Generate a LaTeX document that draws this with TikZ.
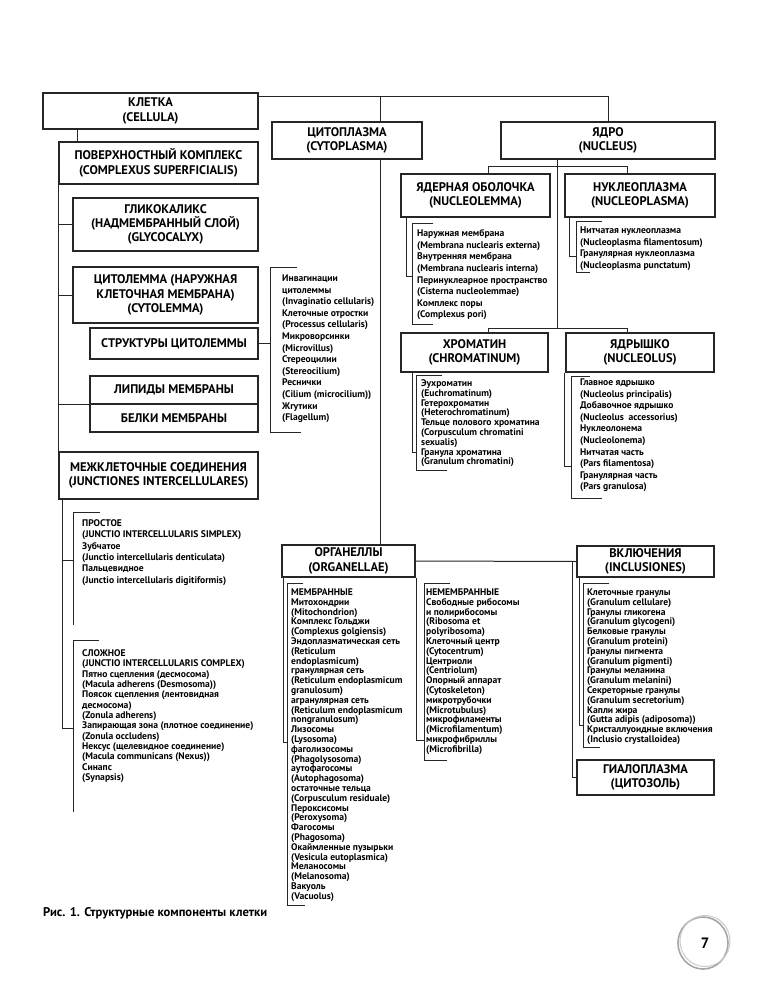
\documentclass[tikz,border=0pt]{standalone}
\usepackage{fontspec}
\setmainfont{PT Sans}
\usetikzlibrary{calc}
\newcommand\bxfont{\fontsize{12.5}{14.2}\selectfont\bfseries}
\newcommand\lsfont{\fontsize{9.6}{11.6}\selectfont\bfseries}
\begin{document}
\begin{tikzpicture}[x=1pt,y=-1pt,
  conn/.style={line width=1pt, draw=black!85},
  box/.style={draw=black!85, line width=1.1pt, align=center, font=\bxfont, inner sep=0pt, anchor=center},
  lst/.style={align=left, anchor=north west, inner sep=0pt, font=\lsfont},
  lsttight/.style={lst, font={\fontsize{9.6}{9.8}\selectfont\bfseries}},
]
\useasboundingbox (0,0) rectangle (776,1000);
\fill[white] (0,0) rectangle (776,1000);

% ---------- boxes ----------
\node[box, minimum width=215, minimum height=36] (cell) at (150.5,111) {КЛЕТКА\\(CELLULA)};
\node[box, minimum width=150, minimum height=37] (cyto) at (347,140.5) {ЦИТОПЛАЗМА\\(CYTOPLASMA)};
\node[box, minimum width=214, minimum height=37] (nuc) at (608,140.5) {ЯДРО\\(NUCLEUS)};
\node[box, minimum width=149, minimum height=43] (nlem) at (475.5,195.5) {ЯДЕРНАЯ ОБОЛОЧКА\\(NUCLEOLEMMA)};
\node[box, minimum width=150, minimum height=43] (nplas) at (640,195.5) {НУКЛЕОПЛАЗМА\\(NUCLEOPLASMA)};
\node[box, minimum width=147, minimum height=39] (chrom) at (474.5,352.5) {ХРОМАТИН\\(CHROMATINUM)};
\node[box, minimum width=148, minimum height=39] (ncl) at (640,352.5) {ЯДРЫШКО\\(NUCLEOLUS)};
\node[box, minimum width=199, minimum height=42] (surf) at (158.5,163) {ПОВЕРХНОСТНЫЙ КОМПЛЕКС\\(COMPLEXUS SUPERFICIALIS)};
\node[box, minimum width=185, minimum height=53] (glyc) at (165.5,224.5) {ГЛИКОКАЛИКС\\(НАДМЕМБРАННЫЙ СЛОЙ)\\(GLYCOCALYX)};
\node[box, minimum width=185, minimum height=56] (cytol) at (165.5,295) {ЦИТОЛЕММА (НАРУЖНАЯ\\КЛЕТОЧНАЯ МЕМБРАНА)\\(CYTOLEMMA)};
\node[box, minimum width=168, minimum height=31] (struct) at (174,343.5) {СТРУКТУРЫ ЦИТОЛЕММЫ};
\node[box, minimum width=168, minimum height=28] (lip) at (174,390) {ЛИПИДЫ МЕМБРАНЫ};
\node[box, minimum width=168, minimum height=28] (prot) at (174,418) {БЕЛКИ МЕМБРАНЫ};
\node[box, minimum width=199, minimum height=47] (junc) at (158.5,475.5) {МЕЖКЛЕТОЧНЫЕ СОЕДИНЕНИЯ\\(JUNCTIONES INTERCELLULARES)};
\node[box, minimum width=133, minimum height=32] (org) at (348.5,561) {ОРГАНЕЛЛЫ\\(ORGANELLAE)};
\node[box, minimum width=137, minimum height=31] (incl) at (645.5,561.5) {ВКЛЮЧЕНИЯ\\(INCLUSIONES)};
\node[box, minimum width=137, minimum height=35] (hyal) at (645.5,777.5) {ГИАЛОПЛАЗМА\\(ЦИТОЗОЛЬ)};

% ---------- main connectors ----------
\coordinate (jtop) at (380,97);
\draw[conn] ($(cell.north east)+(0,4)$) -| (nuc.north);
\draw[conn] (jtop) -- (jtop |- cyto.north);
\draw[conn] (jtop |- cyto.south) -- (jtop |- org.north);

\coordinate (nx) at (557,328);
\draw[conn] (nx |- nuc.south) -- (nx);
\coordinate (bl) at (488,167);
\coordinate (br) at (627,167);
\draw[conn] (bl |- nlem.north) -- (bl) -- (br) -- (br |- nplas.north);
\coordinate (cl) at (488,328);
\coordinate (cr) at (627,328);
\draw[conn] (cl |- chrom.north) -- (cl) -- (cr) -- (cr |- ncl.north);

\coordinate (lx) at (77,0);
\draw[conn] (lx |- cell.south) -- (lx |- surf.north);
\draw[conn] (surf.south west) -- (junc.north west);
\draw[conn] (surf.south west |- glyc.west) -- (glyc.west);
\draw[conn] (surf.south west |- cytol.west) -- (cytol.west);
\draw[conn] (surf.south west |- lip.south west) -- (lip.south west);

\draw[conn] (org.east) -- (incl.west);
\coordinate (hx) at (572,0);
\draw[conn] (hx |- org.east) -- (hx |- hyal.west) -- (hyal.west);

% ---------- lists ----------
% A: structures of cytolemma
\coordinate (Atop) at (270,267); \coordinate (Abot) at (270,432);
\draw[conn] (Atop) ++(27,0) -- (Atop) -- (Abot) -- ++(31,0);
\draw[conn] (struct.east) -- (Atop |- struct.east);
\node[lst] (lA) at (282,274.5) {Инвагинации\\цитолеммы\\(Invaginatio cellularis)\\Клеточные отростки\\(Processus cellularis)\\Микроворсинки\\(Microvillus)\\Стереоцилии\\(Stereocilium)\\Реснички\\(Cilium (microcilium))\\Жгутики\\(Flagellum)};

% B: nucleolemma
\coordinate (Btop) at (412,224); \coordinate (Bbot) at (412,324); \coordinate (Bj) at (406,276);
\draw[conn] (Btop) ++(21,0) -- (Btop) -- (Bbot) -- ++(21,0);
\draw[conn] (Bj |- nlem.south) -- (Bj) -- (Bj -| Btop);
\node[lst] (lB) at (417,229.5) {Наружная мембрана\\(Membrana nuclearis externa)\\Внутренняя мембрана\\(Membrana nuclearis interna)\\Перинуклеарное пространство\\(Cisterna nucleolemmae)\\Комплекс поры\\(Complexus pori)};

% C: nucleoplasm
\coordinate (Ctop) at (576,222); \coordinate (Cbot) at (576,272); \coordinate (Cj) at (569,256);
\draw[conn] (Ctop) ++(26,0) -- (Ctop) -- (Cbot) -- ++(14,0);
\draw[conn] (Cj |- nplas.south) -- (Cj) -- (Cj -| Ctop);
\node[lst] (lC) at (580,226.5) {Нитчатая нуклеоплазма\\(Nucleoplasma filamentosum)\\Гранулярная нуклеоплазма\\(Nucleoplasma punctatum)};

% D: chromatin
\coordinate (Dtop) at (416,375); \coordinate (Dbot) at (416,470); \coordinate (Dj) at (412,452);
\draw[conn] (Dtop) ++(26,0) -- (Dtop) -- (Dbot) -- ++(31,0);
\draw[conn] (Dj |- chrom.south) -- (Dj) -- (Dj -| Dtop);
\node[lsttight] (lD) at (421,379.5) {Эухроматин\\(Euchromatinum)\\Гетерохроматин\\(Heterochromatinum)\\Тельце полового хроматина\\(Corpusculum chromatini\\sexualis)\\Гранула хроматина\\(Granulum chromatini)};

% E: nucleolus
\coordinate (Etop) at (571,376); \coordinate (Ebot) at (571,498); \coordinate (Ej) at (564,466);
\draw[conn] (Etop) ++(19,0) -- (Etop) -- (Ebot) -- ++(31,0);
\draw[conn] (Ej |- ncl.south) -- (Ej) -- (Ej -| Etop);
\node[lst] (lE) at (580,378.5) {Главное ядрышко\\(Nucleolus principalis)\\Добавочное ядрышко\\(Nucleolus \ accessorius)\\Нуклеолонема\\(Nucleolonema)\\Нитчатая часть\\(Pars filamentosa)\\Гранулярная часть\\(Pars granulosa)};

% F, G: junctions
\coordinate (Fj) at (62,560); \coordinate (Gj) at (62,728);
\coordinate (Ftop) at (73,512); \coordinate (Fbot) at (73,625);
\coordinate (Gtop) at (73,640); \coordinate (Gbot) at (73,812);
\draw[conn] (Fj |- junc.south) -- (Gj) -- (Gj -| Gtop);
\draw[conn] (Fj) -- (Fj -| Ftop);
\draw[conn] (Ftop) ++(27,0) -- (Ftop) -- (Fbot);
\draw[conn] (Gtop) ++(26,0) -- (Gtop) -- (Gbot);
\node[lst, font={\fontsize{9.6}{11.3}\selectfont\bfseries}] (lF) at (82,519.5) {ПРОСТОЕ\\(JUNCTIO INTERCELLULARIS SIMPLEX)\\Зубчатое\\(Junctio intercellularis denticulata)\\Пальцевидное\\(Junctio intercellularis digitiformis)};
\node[lst, font={\fontsize{9.6}{10.33}\selectfont\bfseries}] (lG) at (82,649.5) {СЛОЖНОЕ\\(JUNCTIO INTERCELLULARIS COMPLEX)\\Пятно сцепления (десмосома)\\(Macula adherens (Desmosoma))\\Поясок сцепления (лентовидная\\десмосома)\\(Zonula adherens)\\Запирающая зона (плотное соединение)\\(Zonula occludens)\\Нексус (щелевидное соединение)\\(Macula communicans (Nexus))\\Синапс\\(Synapsis)};

% H: membrane organelles
\coordinate (Htop) at (287,583); \coordinate (Hbot) at (287,905); \coordinate (Hj) at (283,742);
\draw[conn] (Htop) ++(16,0) -- (Htop) -- (Hbot) -- ++(18,0);
\draw[conn] (Hj |- org.south) -- (Hj) -- (Hj -| Htop);
\node[lsttight] (lH) at (291,588.5) {МЕМБРАННЫЕ\\Митохондрии\\(Mitochondrion)\\Комплекс Гольджи\\(Complexus golgiensis)\\Эндоплазматическая сеть\\(Reticulum\\endoplasmicum)\\гранулярная сеть\\(Reticulum endoplasmicum\\granulosum)\\агранулярная сеть\\(Reticulum endoplasmicum\\nongranulosum)\\Лизосомы\\(Lysosoma)\\фаголизосомы\\(Phagolysosoma)\\аутофагосомы\\(Autophagosoma)\\остаточные тельца\\(Corpusculum residuale)\\Пероксисомы\\(Peroxysoma)\\Фагосомы\\(Phagosoma)\\Окаймленные пузырьки\\(Vesicula eutoplasmica)\\Меланосомы\\(Melanosoma)\\Вакуоль\\(Vacuolus)};

% I: nonmembrane organelles
\coordinate (Itop) at (424,583); \coordinate (Ibot) at (424,760); \coordinate (Ij) at (416,740);
\draw[conn] (Itop) ++(26,0) -- (Itop) -- (Ibot) -- ++(23,0);
\draw[conn] (Ij |- org.south) -- (Ij) -- (Ij -| Itop);
\node[lsttight] (lI) at (426,588.5) {НЕМЕМБРАННЫЕ\\Свободные рибосомы\\и полирибосомы\\(Ribosoma et\\polyribosoma)\\Клеточный центр\\(Cytocentrum)\\Центриоли\\(Centriolum)\\Опорный аппарат\\(Cytoskeleton)\\микротрубочки\\(Microtubulus)\\микрофиламенты\\(Microfilamentum)\\микрофибриллы\\(Microfibrilla)};

% J: inclusions
\coordinate (Jtop) at (583,583); \coordinate (Jbot) at (583,747); \coordinate (Jj) at (579,725);
\draw[conn] (Jtop) ++(26,0) -- (Jtop) -- (Jbot) -- ++(17,0);
\draw[conn] (Jj |- incl.south) -- (Jj) -- (Jj -| Jtop);
\node[lsttight] (lJ) at (587,588.5) {Клеточные гранулы\\(Granulum cellulare)\\Гранулы гликогена\\(Granulum glycogeni)\\Белковые гранулы\\(Granulum proteini)\\Гранулы пигмента\\(Granulum pigmenti)\\Гранулы меланина\\(Granulum melanini)\\Секреторные гранулы\\(Granulum secretorium)\\Капли жира\\(Gutta adipis (adiposoma))\\Кристаллуоидные включения\\(Inclusio crystalloidea)};

% caption and page number
\node[anchor=base west, inner sep=0pt, font={\fontsize{12.6}{14}\selectfont\bfseries}] (cap) at (43,916) {Рис. 1. Структурные компоненты клетки};
\draw[black!35, line width=1.6pt] (703,943) ellipse (25 and 26);
\draw[black!20, line width=1pt] (705,941) ellipse (25 and 25.5);
\node[font={\fontsize{15}{16}\selectfont\bfseries}] (pg) at (705,943) {7};
\end{tikzpicture}
\end{document}
